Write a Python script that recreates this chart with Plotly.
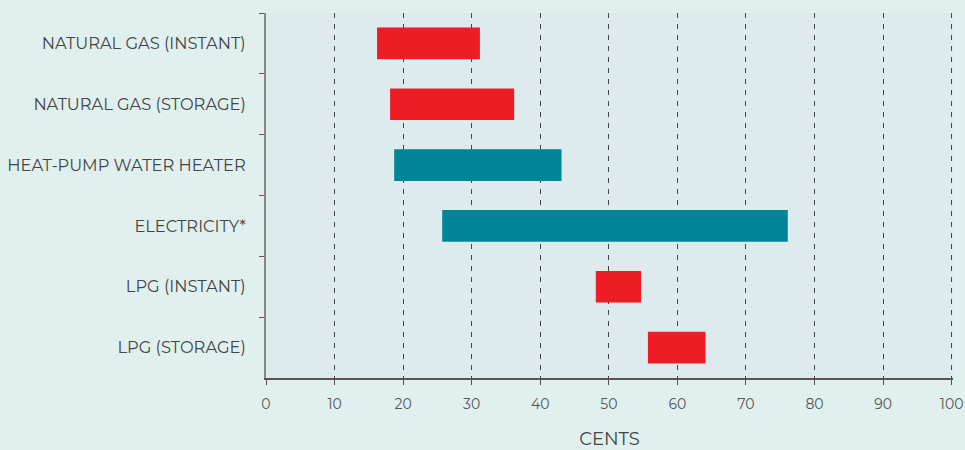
import plotly.graph_objects as go

categories = ["NATURAL GAS (INSTANT)", "NATURAL GAS (STORAGE)", "HEAT-PUMP WATER HEATER",
              "ELECTRICITY*", "LPG (INSTANT)", "LPG (STORAGE)"]
low = [16.2, 18.1, 18.7, 25.7, 48.1, 55.7]
high = [31.2, 36.2, 43.1, 76.1, 54.7, 64.1]
colors = ["#EE1C25", "#EE1C25", "#008596", "#008596", "#EE1C25", "#EE1C25"]
x_ticks = [0, 10, 20, 30, 40, 50, 60, 70, 80, 90, 100]

fig = go.Figure(go.Bar(
    y=categories,
    x=[h - l for l, h in zip(low, high)],
    base=low,
    orientation="h",
    marker=dict(color=colors, line=dict(width=0)),
    width=0.52,
    hoverinfo="skip",
))

font_family = "Montserrat, Lato, 'Open Sans', sans-serif"
fig.update_layout(
    width=965, height=450,
    margin=dict(l=266, r=12, t=13, b=72),
    paper_bgcolor="#DFF0EE",
    plot_bgcolor="#DDEBEF",
    showlegend=False,
    font=dict(family=font_family, color="#444444"),
    xaxis=dict(
        range=[0, 100.2], tickvals=x_ticks, ticktext=[str(v) for v in x_ticks],
        showgrid=True, gridcolor="#444444", griddash="5px,6px", gridwidth=1,
        showline=True, linecolor="#555555", linewidth=1.5,
        ticks="outside", ticklen=5, tickcolor="#555555",
        tickfont=dict(size=14, color="#555555"),
        ticklabelstandoff=7,
        zeroline=False, automargin=False,
        title=dict(text="CENTS", font=dict(size=18, color="#444444"), standoff=22),
    ),
    yaxis=dict(
        type="category", autorange="reversed",
        showgrid=False, zeroline=False, automargin=False,
        showline=True, linecolor="#888888", linewidth=2,
        ticks="outside", ticklen=5, tickcolor="#555555", tickson="boundaries",
        tickfont=dict(size=16.3, color="#444444"),
        ticklabelstandoff=15,
    ),
)

fig.write_html("out.html", config={"displayModeBar": False},
               post_script="document.body.style.margin='0';document.body.style.background='#DFF0EE';")
